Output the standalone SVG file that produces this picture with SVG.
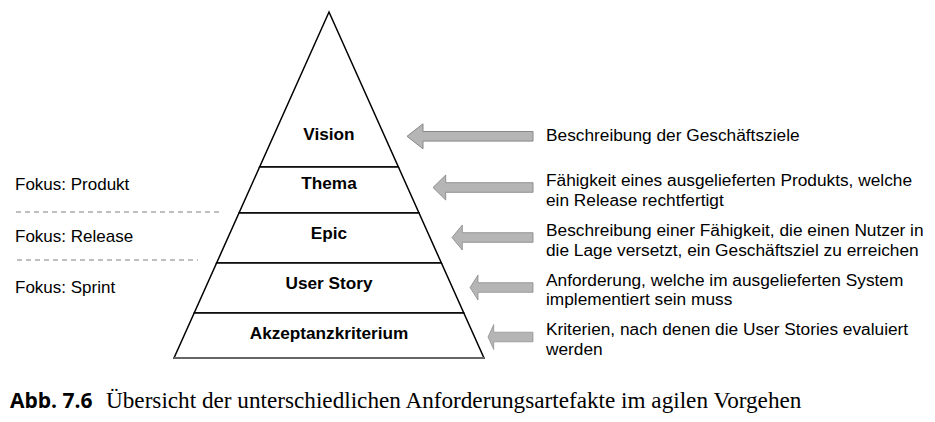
<svg xmlns="http://www.w3.org/2000/svg" xmlns:xlink="http://www.w3.org/1999/xlink" width="935" height="422" viewBox="0 0 935 422">
<style>
.layer{fill:#fff;stroke:#000;stroke-width:1.5;stroke-linejoin:miter}
.lbl{font-family:"Liberation Sans",Arial,sans-serif;font-size:17.2px;font-weight:bold;fill:#000;text-anchor:middle}
.desc{font-family:"Liberation Sans",Arial,sans-serif;font-size:17.3px;fill:#000}
.focus{font-family:"Liberation Sans",Arial,sans-serif;font-size:17px;fill:#000}
.dash{stroke:#aaa;stroke-width:1.3;stroke-dasharray:5,4;fill:none}
.arr{fill:#b5b5b5;stroke:#888;stroke-width:1}
</style>
<defs>
<path id="arrow" d="M0,0 L16,-12.5 L16,-4.8 L126,-4.8 L126,4.8 L16,4.8 L16,12.5 Z"/>
</defs>
<rect width="935" height="422" fill="#fff"/>
<g id="vision">
<polygon class="layer" points="329,12 398.4,167 259.6,167"/>
<text class="lbl" x="329" y="139.5">Vision</text>
</g>
<g id="thema">
<polygon class="layer" points="259.6,167 398.4,167 419,213 239,213"/>
<text class="lbl" x="329" y="189.3">Thema</text>
</g>
<g id="epic">
<polygon class="layer" points="239,213 419,213 441.4,263 216.6,263"/>
<text class="lbl" x="329" y="239">Epic</text>
</g>
<g id="userstory">
<polygon class="layer" points="216.6,263 441.4,263 463.8,313 194.2,313"/>
<text class="lbl" x="329" y="289.3">User Story</text>
</g>
<g id="akzeptanzkriterium">
<polygon class="layer" points="194.2,313 463.8,313 484,358 174,358"/>
<line x1="174" y1="358" x2="484" y2="358" stroke="#666" stroke-width="2.2"/>
<text class="lbl" x="329" y="339">Akzeptanzkriterium</text>
</g>
<g id="connectors">
<use xlink:href="#arrow" class="arr" transform="translate(407,136.3)"/>
<use xlink:href="#arrow" class="arr" transform="translate(433,187.5) scale(0.794,1)"/>
<use xlink:href="#arrow" class="arr" transform="translate(452,237.5) scale(0.643,1)"/>
<use xlink:href="#arrow" class="arr" transform="translate(470,287.5) scale(0.5,1)"/>
<use xlink:href="#arrow" class="arr" transform="translate(488,337) scale(0.357,1)"/>
</g>
<g id="desc-vision"><text class="desc" x="546" y="141">Beschreibung der Geschäftsziele</text></g>
<g id="desc-thema"><text class="desc" x="546" y="185.5">Fähigkeit eines ausgelieferten Produkts, welche</text><text class="desc" x="546" y="205.5">ein Release rechtfertigt</text></g>
<g id="desc-epic"><text class="desc" x="546" y="236">Beschreibung einer Fähigkeit, die einen Nutzer in</text><text class="desc" x="546" y="256">die Lage versetzt, ein Geschäftsziel zu erreichen</text></g>
<g id="desc-userstory"><text class="desc" x="546" y="285.5">Anforderung, welche im ausgelieferten System</text><text class="desc" x="546" y="305">implementiert sein muss</text></g>
<g id="desc-akzeptanz"><text class="desc" x="546" y="335">Kriterien, nach denen die User Stories evaluiert</text><text class="desc" x="546" y="354.5">werden</text></g>
<g id="focus">
<text class="focus" x="15" y="190">Fokus: Produkt</text>
<line class="dash" x1="16" y1="212" x2="222" y2="212"/>
<text class="focus" x="15" y="241.7">Fokus: Release</text>
<line class="dash" x1="17" y1="260" x2="198" y2="260"/>
<text class="focus" x="15" y="293.3">Fokus: Sprint</text>
</g>
<g id="caption">
<text x="10" y="408.3" font-family="'Open Sans','DejaVu Sans',sans-serif" font-weight="bold" font-size="21" fill="#000">Abb. 7.6</text>
<text x="106" y="408.3" font-family="'Liberation Serif','Times New Roman',serif" font-size="23.2" fill="#000">Übersicht der unterschiedlichen Anforderungsartefakte im agilen Vorgehen</text>
</g>
</svg>
